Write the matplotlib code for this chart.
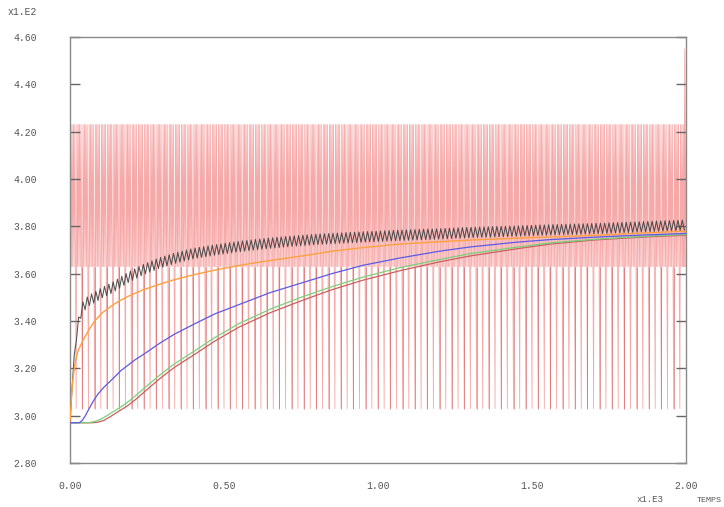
import numpy as np
import matplotlib
matplotlib.use("Agg")
import matplotlib.pyplot as plt

# ---- data (x in units of 1.E2, y in units of 1.E2) ----
red_levels_cycle = [3.03, 4.23, 3.63, 4.23, 3.63, 4.23, 3.63, 4.23, 3.63]
red_low, red_mid, red_high = 3.03, 3.63, 4.23
red_period = 0.02
red_end = 1.99
red_spike_x = [1.993, 1.996, 1.999]
red_spike_y = [3.63, 4.55, 3.75]

black_x = [0.0, 0.004, 0.008, 0.012, 0.016, 0.025, 0.039, 0.06, 0.08, 0.105, 0.136, 0.16, 0.19, 0.234, 0.29, 0.34,
           0.40, 0.47, 0.55, 0.62, 0.70, 0.80, 0.92, 1.07, 1.20, 1.30, 1.45, 1.56, 1.70, 1.80, 1.90, 2.0]
black_y = [2.97, 3.06, 3.15, 3.22, 3.28, 3.38, 3.455, 3.485, 3.50, 3.52, 3.54, 3.56, 3.585, 3.615, 3.645, 3.665,
           3.685, 3.70, 3.715, 3.725, 3.735, 3.745, 3.753, 3.762, 3.768, 3.774, 3.780, 3.785, 3.790, 3.795, 3.80, 3.805]
black_ripple = 0.022
black_ripple_period = 0.014

orange_x = [0.0, 0.003, 0.006, 0.010, 0.016, 0.025, 0.039, 0.06, 0.08, 0.105, 0.136, 0.16, 0.19, 0.234, 0.29, 0.34,
            0.40, 0.47, 0.55, 0.62, 0.70, 0.78, 0.85, 0.95, 1.07, 1.20, 1.30, 1.45, 1.56, 1.70, 1.80, 1.90, 2.0]
orange_y = [2.97, 3.04, 3.10, 3.16, 3.22, 3.27, 3.31, 3.36, 3.40, 3.435, 3.465, 3.485, 3.505, 3.53, 3.555, 3.575,
            3.595, 3.615, 3.635, 3.65, 3.665, 3.68, 3.695, 3.71, 3.725, 3.735, 3.742, 3.75, 3.755, 3.762, 3.768, 3.774, 3.78]

blue_x = [0.0, 0.03, 0.04, 0.05, 0.06, 0.075, 0.09, 0.11, 0.13, 0.146, 0.165, 0.185, 0.21, 0.24, 0.29, 0.34, 0.40,
          0.47, 0.55, 0.65, 0.75, 0.85, 0.95, 1.07, 1.20, 1.30, 1.45, 1.56, 1.70, 1.80, 1.90, 2.0]
blue_y = [2.97, 2.97, 2.98, 3.0, 3.025, 3.06, 3.09, 3.12, 3.145, 3.165, 3.19, 3.21, 3.235, 3.26, 3.305, 3.345, 3.385,
          3.43, 3.47, 3.52, 3.56, 3.60, 3.635, 3.666, 3.695, 3.713, 3.733, 3.744, 3.754, 3.76, 3.765, 3.77]

green_x = [0.0, 0.06, 0.08, 0.10, 0.12, 0.15, 0.175, 0.20, 0.24, 0.29, 0.34, 0.40, 0.47, 0.55, 0.65, 0.75, 0.85, 0.95,
           1.07, 1.20, 1.30, 1.45, 1.56, 1.70, 1.80, 1.90, 2.0]
green_y = [2.97, 2.97, 2.975, 2.985, 3.0, 3.025, 3.045, 3.07, 3.115, 3.17, 3.22, 3.27, 3.33, 3.39, 3.45, 3.50, 3.545,
           3.585, 3.625, 3.66, 3.685, 3.712, 3.73, 3.745, 3.753, 3.76, 3.765]

brown_x = [0.0, 0.07, 0.09, 0.11, 0.13, 0.16, 0.185, 0.21, 0.25, 0.29, 0.34, 0.40, 0.47, 0.55, 0.65, 0.75, 0.85, 0.95,
           1.07, 1.20, 1.30, 1.45, 1.56, 1.70, 1.80, 1.90, 2.0]
brown_y = [2.97, 2.97, 2.972, 2.98, 2.995, 3.02, 3.04, 3.065, 3.11, 3.155, 3.205, 3.255, 3.315, 3.375, 3.435, 3.485,
           3.532, 3.572, 3.612, 3.65, 3.675, 3.705, 3.725, 3.742, 3.75, 3.757, 3.762]

yticks = [2.80, 3.00, 3.20, 3.40, 3.60, 3.80, 4.00, 4.20, 4.40, 4.60]
xticks = [0.00, 0.50, 1.00, 1.50, 2.00]

# ---- figure ----
W, H = 724, 507
fig = plt.figure(figsize=(W / 100, H / 100), dpi=100)
ax = fig.add_axes([70 / W, (H - 463) / H, 616 / W, 426 / H])

mono = ["Liberation Mono", "DejaVu Sans Mono"]
tcol = "#555555"

# red pulsed signal
n_per = int(round(red_end / red_period))
m = len(red_levels_cycle)
rx, ry = [], []
for k in range(n_per):
    for j, lv in enumerate(red_levels_cycle):
        rx.append(k * red_period + j * red_period / m)
        ry.append(lv)
rx += red_spike_x
ry += red_spike_y
ax.plot(rx, ry, color="#f07070", lw=0.6, alpha=0.6, zorder=1)
dip_x = [rx[i] for i in range(len(rx)) if ry[i] == red_low]
ax.vlines(dip_x[::2], red_low, red_mid, color="#d04848", lw=0.6, alpha=0.6, zorder=1)

# black curve with ripple
bt = np.arange(0, 2.0 + 1e-9, black_ripple_period / 2)
bm = np.interp(bt, black_x, black_y)
sgn = np.where(np.arange(len(bt)) % 2 == 0, 1.0, -1.0)
ramp = np.clip(bt / 0.03, 0, 1)
by = bm + sgn * black_ripple * ramp
ax.plot(bt, by, color="#404040", lw=0.75, alpha=0.9, zorder=3)

ax.plot(orange_x, orange_y, color="#ffa040", lw=1.0, zorder=4)
ax.plot(brown_x, brown_y, color="#c86060", lw=0.9, zorder=4)
ax.plot(green_x, green_y, color="#7ad07a", lw=0.9, zorder=4)
ax.plot(blue_x, blue_y, color="#5a5ae6", lw=0.9, zorder=4)

ax.set_xlim(0, 2.0)
ax.set_ylim(2.80, 4.60)

for s in ax.spines.values():
    s.set_color("#8a8a8a")
    s.set_linewidth(1.0)

ax.set_yticks(yticks)
ax.set_yticklabels(["%.2f" % v for v in yticks], family=mono, fontsize=7, color=tcol)
ax.tick_params(axis="y", direction="in", length=7, width=1, color="#666666",
               left=True, right=True, pad=24)
ax.set_xticks(xticks)
ax.set_xticklabels(["%.2f" % v for v in xticks], family=mono, fontsize=7, color=tcol)
ax.tick_params(axis="x", length=0, pad=13)

fig.text(22 / W, 1 - 12 / H, "x1.E2", family=mono, fontsize=7, color=tcol, ha="center", va="center")
fig.text(650 / W, 1 - 500 / H, "x1.E3", family=mono, fontsize=6.5, color=tcol, ha="center", va="center")
fig.text(697 / W, 1 - 500 / H, "TEMPS", family=mono, fontsize=6, color=tcol, ha="left", va="center")

fig.savefig("out.png", dpi=100)
